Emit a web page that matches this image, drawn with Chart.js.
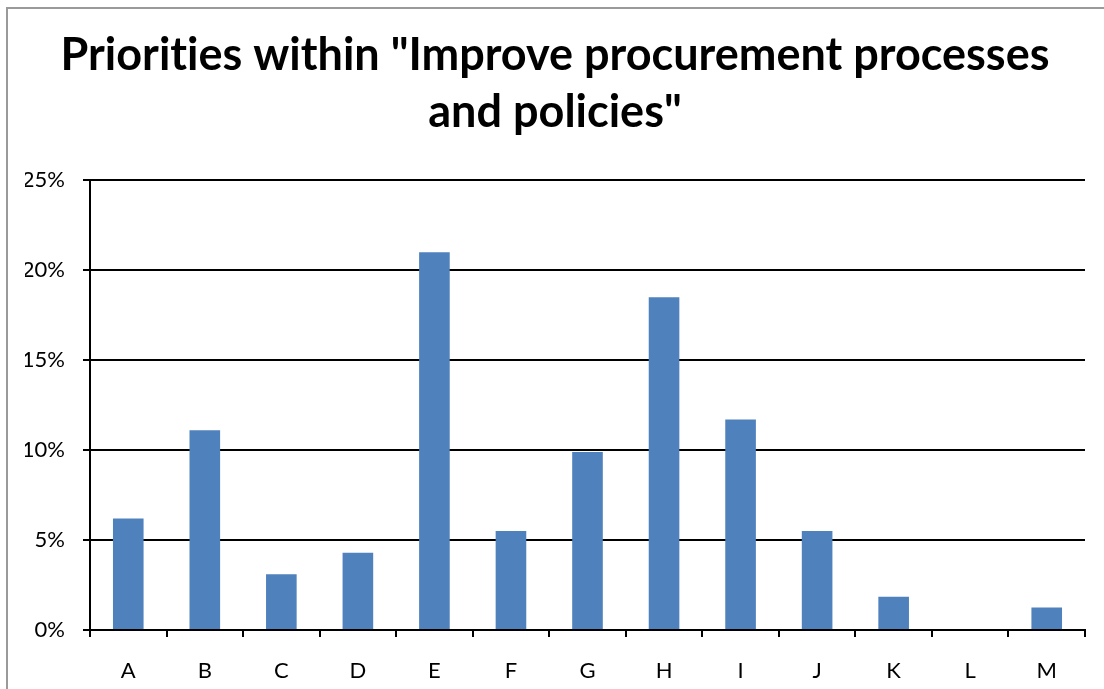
<!DOCTYPE html>
<html>
<head>
<meta charset="utf-8">
<script src="https://cdn.jsdelivr.net/npm/chart.js@4"></script>
<style>
  html, body { margin: 0; padding: 0; background: #fff; overflow: hidden; }
  #frame { position: absolute; left: 6px; top: 7px; width: 1200px; height: 800px; border: 2px solid #9a9a9a; }
  #wrap { position: absolute; left: 0; top: 0; width: 1104px; height: 689px; }
</style>
</head>
<body>
<div id="frame"></div>
<div id="wrap"><canvas id="chart"></canvas></div>
<script>
// Share of responses per priority
const categories = ['A', 'B', 'C', 'D', 'E', 'F', 'G', 'H', 'I', 'J', 'K', 'L', 'M'];
const shares = [6.2, 11.1, 3.1, 4.3, 21.0, 5.5, 9.9, 18.5, 11.7, 5.5, 1.85, 0, 1.25];
const yTicks = [0, 5, 10, 15, 20, 25];
// \u200C keeps Lato from joining "ti" into a ligature
const titleLines = ['Priorit\u200Cies wit\u200Chin "Improve procurement processes', 'and policies"'];

const FONT = "Lato, 'Open Sans', sans-serif";

new Chart(document.getElementById('chart'), {
    type: 'bar',
    data: {
        labels: categories,
        datasets: [{
            data: shares,
            backgroundColor: '#4f81bd',
            borderWidth: 0,
            barPercentage: 0.4,
            categoryPercentage: 1.0
        }]
    },
    options: {
        responsive: true,
        maintainAspectRatio: false,
        animation: false,
        layout: { padding: { left: 25, right: 19, top: 0, bottom: 0 } },
        plugins: {
            legend: { display: false },
            tooltip: { enabled: false },
            title: {
                display: true,
                text: titleLines,
                color: '#000',
                font: { family: FONT, size: 45, weight: 'bold', lineHeight: 1.27 },
                padding: { top: 27, bottom: 39 }
            }
        },
        scales: {
            x: {
                grid: { display: true, drawOnChartArea: false, drawTicks: true, tickLength: 7, color: '#000', lineWidth: 2, offset: true },
                border: { display: true, color: '#000', width: 2 },
                ticks: { color: '#000', font: { family: FONT, size: 22 }, padding: 21 },
                afterFit: function (s) { s.height = 59; }
            },
            y: {
                min: 0,
                max: 25,
                afterBuildTicks: function (s) { s.ticks = yTicks.map(v => ({ value: v })); },
                grid: { color: '#000', lineWidth: 2, tickLength: 7 },
                border: { display: true, color: '#000', width: 2 },
                ticks: {
                    color: '#000',
                    font: { family: FONT, size: 22 },
                    padding: 18,
                    callback: function (v) { return v + '%'; }
                },
                afterFit: function (s) { s.width = 65; }
            }
        }
    }
});
</script>
</body>
</html>
